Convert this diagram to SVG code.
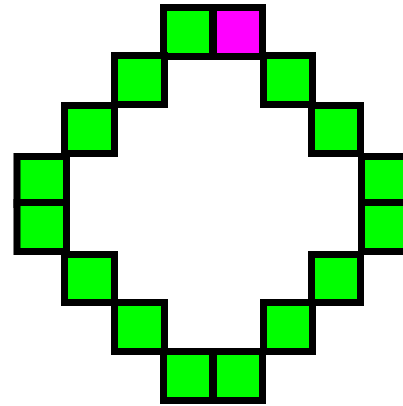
<svg xmlns="http://www.w3.org/2000/svg" width="403" height="406" viewBox="0 0 403 406">
<style>
.c{fill:#00ff00;stroke:#000;stroke-width:7}
.m{fill:#ff00ff;stroke:#000;stroke-width:7}
</style>
<rect width="403" height="406" fill="#fff"/>
<g id="cells">
<rect id="r0c3" class="c" x="163.5" y="7.5" width="49" height="49"/>
<rect id="r0c4" class="m" x="213.5" y="7.5" width="49" height="49"/>
<rect id="r1c2" class="c" x="114.5" y="55.5" width="50" height="49"/>
<rect id="r1c5" class="c" x="263.5" y="55.5" width="49" height="49"/>
<rect id="r2c1" class="c" x="64.5" y="105.5" width="50" height="48"/>
<rect id="r2c6" class="c" x="311.5" y="105.5" width="49" height="48"/>
<rect id="r3c0" class="c" x="17" y="156.5" width="49.5" height="48"/>
<rect id="r3c7" class="c" x="361.5" y="156.5" width="49" height="48"/>
<rect id="r4c0" class="c" x="17" y="202.5" width="49.5" height="49"/>
<rect id="r4c7" class="c" x="361.5" y="202.5" width="49" height="49"/>
<rect id="r5c1" class="c" x="64.5" y="254.5" width="50" height="48"/>
<rect id="r5c6" class="c" x="311.5" y="254.5" width="49" height="48"/>
<rect id="r6c2" class="c" x="114.5" y="302.5" width="50" height="49"/>
<rect id="r6c5" class="c" x="263.5" y="302.5" width="49" height="49"/>
<rect id="r7c3" class="c" x="163.5" y="351.5" width="49" height="49"/>
<rect id="r7c4" class="c" x="213.5" y="351.5" width="49" height="49"/>
</g>
</svg>
